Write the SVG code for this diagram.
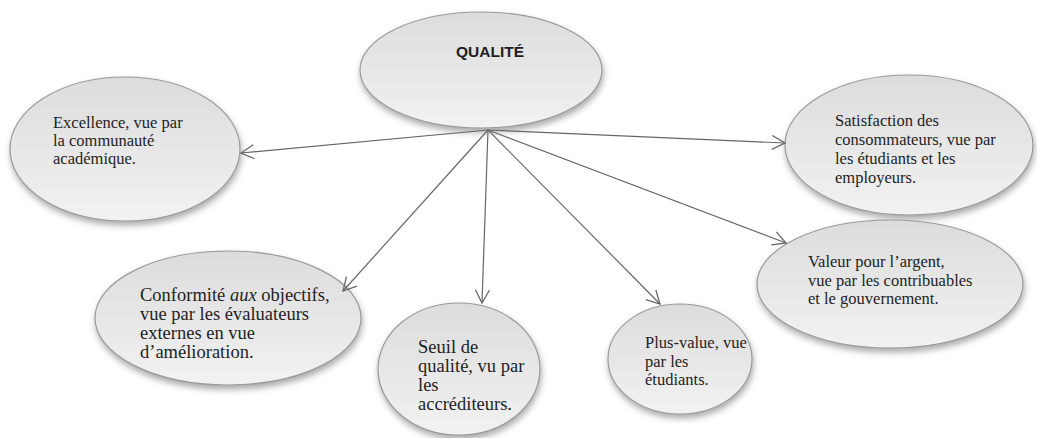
<svg xmlns="http://www.w3.org/2000/svg" width="1037" height="438" viewBox="0 0 1037 438">
  <defs>
    <linearGradient id="g" x1="0" y1="0" x2="0" y2="1">
      <stop offset="0" stop-color="#dcdcdc"/>
      <stop offset="1" stop-color="#f2f2f2"/>
    </linearGradient>
    <filter id="sh" x="-20%" y="-20%" width="140%" height="150%">
      <feDropShadow dx="1" dy="4" stdDeviation="3" flood-color="#666" flood-opacity="0.55"/>
    </filter>
    <marker id="arr" markerUnits="userSpaceOnUse" markerWidth="16" markerHeight="16" viewBox="0 0 16 16" refX="15" refY="8" orient="auto">
      <path d="M2,1 L15,8 L2,15" fill="none" stroke="#666" stroke-width="1.3"/>
    </marker>
  </defs>
  <style>
    .node ellipse { fill: url(#g); stroke: #9a9a9a; stroke-width: 1.2; filter: url(#sh); }
    .t { font-family: "Liberation Serif", "Times New Roman", serif; font-size: 16.5px; fill: #1e1e1e; }
    .big { font-size: 18.5px; }
    .title { font-family: "Liberation Sans", Arial, sans-serif; font-size: 15.5px; font-weight: bold; fill: #1e1e1e; }
    .conn line { stroke: #666; stroke-width: 1.2; marker-end: url(#arr); }
  </style>
  <rect width="1037" height="438" fill="#ffffff"/>

  <g id="n-qualite" class="node">
    <ellipse cx="481" cy="70" rx="121" ry="58"/>
    <text class="title" x="490" y="57" text-anchor="middle">QUALITÉ</text>
  </g>

  <g id="n-excellence" class="node">
    <ellipse cx="125" cy="149" rx="115" ry="72"/>
    <text class="t" x="53" y="128">Excellence, vue par</text>
    <text class="t" x="53" y="146">la communauté</text>
    <text class="t" x="53" y="164">académique.</text>
  </g>

  <g id="n-satisfaction" class="node">
    <ellipse cx="909" cy="145" rx="124" ry="70"/>
    <text class="t" x="835" y="126">Satisfaction des</text>
    <text class="t" x="835" y="145">consommateurs, vue par</text>
    <text class="t" x="835" y="164">les étudiants et les</text>
    <text class="t" x="835" y="183">employeurs.</text>
  </g>

  <g id="n-conformite" class="node">
    <ellipse cx="228" cy="318" rx="133" ry="67"/>
    <text class="t big" x="140" y="301">Conformité <tspan font-style="italic">aux</tspan> objectifs,</text>
    <text class="t big" x="140" y="320">vue par les évaluateurs</text>
    <text class="t big" x="140" y="339">externes en vue</text>
    <text class="t big" x="140" y="358">d’amélioration.</text>
  </g>

  <g id="n-seuil" class="node">
    <ellipse cx="459" cy="369" rx="81" ry="66"/>
    <text class="t big" x="418" y="353">Seuil de</text>
    <text class="t big" x="418" y="372">qualité, vu par</text>
    <text class="t big" x="418" y="391">les</text>
    <text class="t big" x="418" y="410">accréditeurs.</text>
  </g>

  <g id="n-plusvalue" class="node">
    <ellipse cx="680" cy="359" rx="72" ry="55"/>
    <text class="t" x="645" y="348">Plus-value, vue</text>
    <text class="t" x="645" y="367">par les</text>
    <text class="t" x="645" y="385">étudiants.</text>
  </g>

  <g id="n-valeur" class="node">
    <ellipse cx="890" cy="284" rx="133" ry="64"/>
    <text class="t" x="808" y="267">Valeur pour l’argent,</text>
    <text class="t" x="808" y="286">vue par les contribuables</text>
    <text class="t" x="808" y="304">et le gouvernement.</text>
  </g>

  <g id="connectors" class="conn">
    <line x1="488" y1="130" x2="241" y2="153"/>
    <line x1="488" y1="130" x2="785" y2="143"/>
    <line x1="488" y1="130" x2="343" y2="291"/>
    <line x1="488" y1="130" x2="482" y2="303"/>
    <line x1="488" y1="130" x2="660" y2="304"/>
    <line x1="488" y1="130" x2="786" y2="243"/>
  </g>
</svg>
